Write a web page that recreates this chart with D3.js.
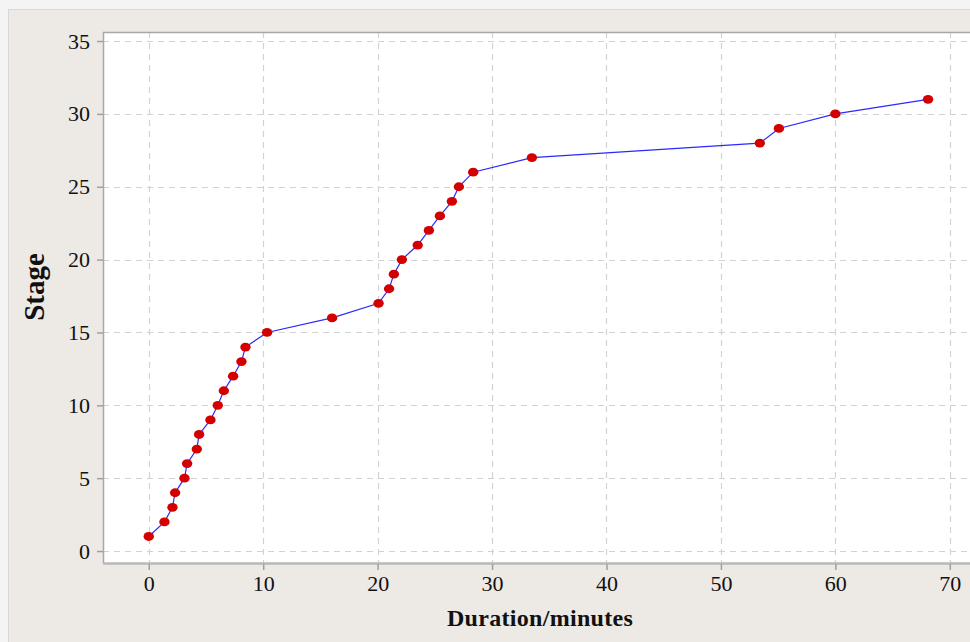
<!DOCTYPE html>
<html>
<head>
<meta charset="utf-8">
<script src="https://cdn.jsdelivr.net/npm/d3@7"></script>
<style>
  body { margin: 0; background: #f4f4f4; }
  svg { display: block; }
  .tick text { font-family: "Liberation Serif", "DejaVu Serif", serif; font-size: 22px; fill: #111; }
  .label { font-family: "Liberation Serif", "DejaVu Serif", serif; font-weight: bold; fill: #111; }
</style>
</head>
<body>
<div id="chart"></div>
<script>
// duration (minutes) at which each stage was reached
const durations = [0, 1.37, 2.07, 2.3, 3.12, 3.35, 4.2, 4.4, 5.39, 6.03, 6.56, 7.37, 8.1, 8.45,
  10.34, 16.02, 20.08, 21.0, 21.42, 22.12, 23.5, 24.48, 25.44, 26.49, 27.1, 28.35, 33.48,
  53.4, 55.07, 60.0, 68.1];
const stages = [1, 2, 3, 4, 5, 6, 7, 8, 9, 10, 11, 12, 13, 14, 15, 16, 17, 18, 19, 20,
  21, 22, 23, 24, 25, 26, 27, 28, 29, 30, 31];
const xTicks = [0, 10, 20, 30, 40, 50, 60, 70];
const yTicks = [0, 5, 10, 15, 20, 25, 30, 35];

const width = 970, height = 642;
const plot = { left: 103, top: 32, right: 975, bottom: 563 };

const data = durations.map((d, i) => ({ x: d, y: stages[i] }));

const svg = d3.select("#chart").append("svg")
  .attr("width", width)
  .attr("height", height);

// outer beige panel
svg.append("rect")
  .attr("x", 8.5).attr("y", 9.5)
  .attr("width", width).attr("height", height)
  .attr("fill", "#ede9e4")
  .attr("stroke", "#d8d8d8");

// plot background
svg.append("rect")
  .attr("x", plot.left).attr("y", plot.top)
  .attr("width", plot.right - plot.left).attr("height", plot.bottom - plot.top)
  .attr("fill", "#ffffff");

const xScale = d3.scaleLinear().domain([-4, 72]).range([plot.left, plot.left + 11.443 * 76]);
const yScale = d3.scaleLinear().domain([-0.82, 35.62]).range([plot.bottom, plot.top]);

// grid
const grid = svg.append("g")
  .attr("stroke", "#d2d2d2")
  .attr("stroke-width", 1.2)
  .attr("stroke-dasharray", "6,5");
grid.selectAll(".gx").data(xTicks).join("line")
  .attr("x1", d => Math.round(xScale(d)) + 0.5).attr("x2", d => Math.round(xScale(d)) + 0.5)
  .attr("y1", plot.top).attr("y2", plot.bottom);
grid.selectAll(".gy").data(yTicks).join("line")
  .attr("y1", d => Math.round(yScale(d)) + 0.5).attr("y2", d => Math.round(yScale(d)) + 0.5)
  .attr("x1", plot.left).attr("x2", plot.right);

// plot frame (top, left, bottom)
svg.append("path")
  .attr("d", `M${plot.right},${plot.top + 0.5}H${plot.left + 0.5}V${plot.bottom}`)
  .attr("fill", "none").attr("stroke", "#a8a8a8").attr("stroke-width", 1.5);
svg.append("line")
  .attr("x1", plot.left).attr("x2", plot.right)
  .attr("y1", plot.bottom + 0.5).attr("y2", plot.bottom + 0.5)
  .attr("stroke", "#b8b8b8").attr("stroke-width", 2.5);

// axes
const xAxis = d3.axisBottom(xScale).tickValues(xTicks).tickSize(6).tickPadding(5);
const yAxis = d3.axisLeft(yScale).tickValues(yTicks).tickSize(6).tickPadding(7);

const xAxisG = svg.append("g")
  .attr("transform", "translate(0," + (plot.bottom + 1) + ")")
  .call(xAxis);
const yAxisG = svg.append("g")
  .attr("transform", "translate(" + (plot.left) + ",0)")
  .call(yAxis);
[xAxisG, yAxisG].forEach(g => {
  g.select(".domain").remove();
  g.selectAll(".tick line").attr("stroke", "#a0a0a0").attr("stroke-width", 1.5);
});

// axis titles
svg.append("text")
  .attr("class", "label")
  .attr("x", 540).attr("y", 626)
  .attr("text-anchor", "middle")
  .style("font-size", "24px")
  .style("letter-spacing", "0.3px")
  .text("Duration/minutes");
svg.append("text")
  .attr("class", "label")
  .attr("transform", "translate(44,287) rotate(-90)")
  .attr("text-anchor", "middle")
  .style("font-size", "29px")
  .text("Stage");

// line
const line = d3.line()
  .x(d => xScale(d.x))
  .y(d => yScale(d.y));
svg.append("path")
  .attr("d", line(data))
  .attr("fill", "none")
  .attr("stroke", "#2a2aff")
  .attr("stroke-width", 1.2);

// markers
svg.selectAll(".pt").data(data).join("ellipse")
  .attr("cx", d => xScale(d.x))
  .attr("cy", d => yScale(d.y))
  .attr("rx", 5.2).attr("ry", 4.4)
  .attr("fill", "#d40000");
</script>
</body>
</html>
